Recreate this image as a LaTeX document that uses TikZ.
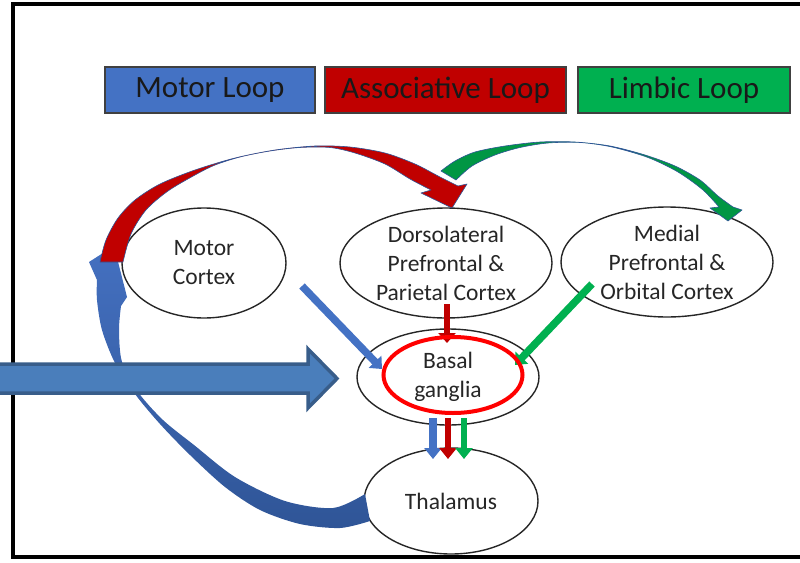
\documentclass[tikz,border=0pt]{standalone}
\usepackage{fontspec}
\setmainfont{Carlito}
\usetikzlibrary{shapes.geometric,arrows.meta}
\definecolor{mblue}{HTML}{4472C4}
\definecolor{bandtop}{HTML}{4470C0}
\definecolor{bandbot}{HTML}{2F5597}
\definecolor{ared}{HTML}{C00000}
\definecolor{lgreen}{HTML}{00B050}
\definecolor{bigfill}{HTML}{4A7EBB}
\definecolor{bigedge}{HTML}{385D8A}
\definecolor{outl}{HTML}{2F5597}
\begin{document}
\begin{tikzpicture}[x=1pt,y=-1pt,
  region/.style={ellipse,draw=black!85,line width=1.4pt,fill=white,inner sep=0pt,align=center,
    font=\fontsize{23.5}{29}\selectfont,text=black!85},
  legendbox/.style={draw=black!75,line width=1.5pt,minimum height=46pt,inner sep=0pt,
    font=\fontsize{31}{36}\selectfont,text=black!90},
  thinarrow/.style={line width=7.5pt,-{Triangle[width=17pt,length=10pt]}},
  downarrow/.style={line width=8pt,-{Triangle[width=17pt,length=11pt]}},
  band/.style={draw=outl,line width=0.6pt,line join=round},
]
\useasboundingbox (0,0) rectangle (800,562);
% frame
\draw[line width=4pt] (810,4) -- (13,4) -- (13,557) -- (810,557);

% legend
\node[legendbox,fill=mblue,minimum width=210pt] (lmotor) at (210,90) {Motor Loop};
\node[legendbox,fill=ared,minimum width=241pt] (lassoc) at (445.5,90) {Associative Loop};
\node[legendbox,fill=lgreen,minimum width=212pt] (llimb) at (684,90) {Limbic Loop};

% regions
\node[region,minimum width=164pt,minimum height=110pt] (mc) at (204,263) {Motor\\Cortex};
\node[region,minimum width=212pt,minimum height=110pt] (dl) at (446,263) {Dorsolateral\\Prefrontal \&\\Parietal Cortex};
\node[region,minimum width=212pt,minimum height=110pt] (mp) at (667,262) {Medial\\Prefrontal \&\\Orbital Cortex};
\node[region,minimum width=182pt,minimum height=96pt] (bg) at (448,377) {Basal\\ganglia};
\node[region,minimum width=174pt,minimum height=106pt] (th) at (451,501) {Thalamus};

% curved block arrows
\shade[top color=bandtop,bottom color=bandbot] plot[smooth,tension=0.5] coordinates {(370,521) (340,528) (300,524) (260,510) (225,487) (190,455) (160,424) (135,394) (115,363) (102,330) (97,300) (97,280)}
  -- (89,262) -- (114,246) -- (127,297)
  -- plot[smooth,tension=0.5] coordinates {(121,306) (119,330) (122,362) (138,392) (163,420) (194,445) (235,477) (285,501) (333,508) (365,494)} -- cycle;

\filldraw[band,fill=lgreen!85!black] plot[smooth,tension=0.5] coordinates {(441,171) (455,161) (475,152) (505,146) (540,142) (575,142) (610,146) (645,155) (675,166) (700,180) (718,196) (733,207)}
  -- (742,210) -- (728,221) -- (710,208)
  -- plot[smooth,tension=0.5] coordinates {(719,207) (703,190) (678,172) (648,157.5) (612,147) (580,142.5) (548,143) (520,147.5) (495,155) (472,166) (456,180)} -- cycle;

\filldraw[band,fill=ared] plot[smooth,tension=0.5] coordinates {(100,262) (106,240) (118,218) (135,200) (160,184) (195,170) (235,158) (275,150) (315,146) (350,147) (385,153) (415,164) (440,177) (458,186)}
  -- (467,184) -- (452,208) -- (421,193)
  -- plot[smooth,tension=0.5] coordinates {(431,190) (410,179) (385,164) (355,153) (330,147.5) (300,147.5) (270,151) (240,157) (215,165) (195,175) (168,191) (146,210) (131,234) (123,262)} -- cycle;

% thin arrows
\coordinate (m1) at (302,286); \coordinate (m2) at (382,369);
\coordinate (d1) at (447,304); \coordinate (d2) at (447,343);
\coordinate (g1) at (592,284); \coordinate (g2) at (515,365);
\draw[thinarrow,mblue] (m1) -- (m2);
\draw[thinarrow,line width=6pt,ared] (d1) -- (d2);
\draw[thinarrow,lgreen] (g1) -- (g2);
\coordinate (b1) at (433,418); \coordinate (b2) at (433,459);
\coordinate (r1) at (448,418); \coordinate (r2) at (448,459);
\coordinate (e1) at (464,418); \coordinate (e2) at (464,459);
\draw[downarrow,mblue] (b1) -- (b2);
\draw[downarrow,line width=6pt,ared] (r1) -- (r2);
\draw[downarrow,line width=6pt,lgreen] (e1) -- (e2);

% highlight
\node[ellipse,draw=red,line width=4pt,minimum width=139pt,minimum height=76pt,inner sep=0pt] (hl) at (453,375) {};

% big input arrow
\filldraw[fill=bigfill,draw=bigedge,line width=3.5pt,line join=miter]
  (-10,364) -- (308,364) -- (308,349) -- (337,378.5) -- (308,408) -- (308,393) -- (-10,393) -- cycle;
\end{tikzpicture}
\end{document}
